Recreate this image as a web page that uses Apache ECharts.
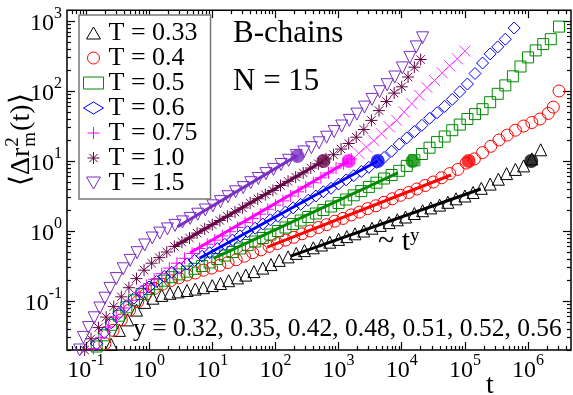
<!DOCTYPE html>
<html>
<head>
<meta charset="utf-8">
<script src="https://cdn.jsdelivr.net/npm/echarts@6/dist/echarts.min.js"></script>
<style>
  html, body { margin: 0; padding: 0; background: #fff; }
  #chart { width: 573px; height: 395px; }
</style>
</head>
<body>
<div id="chart"></div>
<script>
// log-log plot: every number below is log10 of t or of <dr^2_m(t)>
const names = ['T = 0.33', 'T = 0.4', 'T = 0.5', 'T = 0.6', 'T = 0.75', 'T = 1.0', 'T = 1.5'];
const colors = ['#000000', '#ff0000', '#008b00', '#0000ff', '#ff00ff', '#670748', '#7a2ec4'];

const t033 = [-0.6,-0.47,-0.34,-0.2,-0.07,0.06,0.2,0.33,0.46,0.6,0.73,0.86,1.0,1.13,1.26,1.4,1.53,1.66,1.8,1.93,2.06,2.2,2.33,2.46,2.6,2.73,2.86,3.0,3.13,3.26,3.4,3.53,3.66,3.8,3.93,4.06,4.2,4.33,4.46,4.6,4.73,4.86,5.0,5.13,5.26,5.4,5.53,5.66,5.8,5.93,6.06,6.2];
const r033 = [-1.62,-1.42,-1.27,-1.13,-1.02,-0.96,-0.92,-0.89,-0.87,-0.85,-0.83,-0.81,-0.78,-0.75,-0.71,-0.67,-0.63,-0.58,-0.53,-0.48,-0.42,-0.37,-0.32,-0.28,-0.24,-0.20,-0.16,-0.12,-0.08,-0.04,0.0,0.04,0.08,0.12,0.16,0.20,0.25,0.29,0.33,0.37,0.41,0.46,0.50,0.55,0.61,0.67,0.74,0.82,0.88,0.93,1.03,1.16];

const t040 = [-0.7,-0.57,-0.44,-0.31,-0.18,-0.05,0.08,0.21,0.34,0.47,0.6,0.73,0.86,0.99,1.12,1.25,1.38,1.51,1.64,1.77,1.9,2.03,2.16,2.29,2.42,2.55,2.68,2.81,2.94,3.07,3.2,3.33,3.46,3.59,3.72,3.85,3.98,4.11,4.24,4.37,4.5,4.63,4.76,4.89,5.02,5.15,5.28,5.41,5.54,5.67,5.8,5.93,6.06,6.19,6.32,6.4,6.49];
const r040 = [-1.61,-1.42,-1.27,-1.13,-1.01,-0.90,-0.82,-0.76,-0.71,-0.67,-0.63,-0.60,-0.56,-0.53,-0.49,-0.45,-0.41,-0.36,-0.31,-0.27,-0.22,-0.18,-0.13,-0.09,-0.04,0.0,0.05,0.09,0.14,0.18,0.23,0.27,0.32,0.36,0.41,0.46,0.51,0.55,0.60,0.65,0.70,0.76,0.82,0.88,0.97,1.03,1.12,1.21,1.30,1.37,1.44,1.50,1.55,1.60,1.68,1.77,2.0];

const t050 = [-0.83,-0.71,-0.6,-0.48,-0.36,-0.24,-0.12,0.0,0.12,0.24,0.36,0.48,0.6,0.72,0.84,0.96,1.08,1.2,1.32,1.44,1.56,1.68,1.8,1.92,2.04,2.16,2.28,2.4,2.52,2.64,2.76,2.88,3.0,3.12,3.24,3.36,3.48,3.6,3.72,3.84,3.96,4.08,4.2,4.32,4.44,4.56,4.68,4.8,4.92,5.04,5.16,5.28,5.4,5.52,5.64,5.76,5.88,6.0,6.12,6.24,6.36,6.49];
const r050 = [-1.65,-1.49,-1.34,-1.21,-1.09,-0.99,-0.90,-0.83,-0.76,-0.71,-0.66,-0.62,-0.58,-0.54,-0.50,-0.45,-0.40,-0.35,-0.30,-0.25,-0.20,-0.15,-0.10,-0.05,0.0,0.05,0.10,0.15,0.20,0.25,0.30,0.35,0.40,0.45,0.51,0.57,0.63,0.69,0.75,0.80,0.86,0.93,1.01,1.10,1.19,1.27,1.35,1.44,1.52,1.60,1.67,1.74,1.84,1.96,2.08,2.21,2.35,2.48,2.58,2.67,2.74,2.92];

const t060 = [-0.83,-0.71,-0.6,-0.48,-0.36,-0.24,-0.12,0.0,0.12,0.24,0.36,0.48,0.6,0.72,0.84,0.96,1.08,1.2,1.32,1.44,1.56,1.68,1.8,1.92,2.04,2.16,2.28,2.4,2.52,2.64,2.76,2.88,3.0,3.12,3.24,3.36,3.48,3.6,3.72,3.84,3.96,4.08,4.2,4.32,4.44,4.56,4.68,4.8,4.92,5.04,5.16,5.28,5.4,5.52,5.64,5.78];
const r060 = [-1.61,-1.45,-1.31,-1.18,-1.07,-0.96,-0.87,-0.80,-0.72,-0.65,-0.59,-0.53,-0.47,-0.42,-0.36,-0.31,-0.25,-0.19,-0.13,-0.07,-0.01,0.04,0.10,0.16,0.21,0.27,0.33,0.38,0.44,0.50,0.56,0.61,0.67,0.73,0.79,0.85,0.91,0.98,1.05,1.14,1.24,1.33,1.42,1.51,1.61,1.69,1.78,1.88,1.99,2.10,2.25,2.40,2.53,2.63,2.74,2.90];

const t075 = [-0.88,-0.76,-0.64,-0.52,-0.4,-0.28,-0.16,-0.04,0.08,0.2,0.32,0.44,0.56,0.68,0.8,0.92,1.04,1.16,1.28,1.4,1.52,1.64,1.76,1.88,2.0,2.12,2.24,2.36,2.48,2.6,2.72,2.84,2.96,3.08,3.2,3.32,3.44,3.56,3.68,3.8,3.92,4.04,4.16,4.28,4.4,4.52,4.64,4.76,4.88,5.0];
const r075 = [-1.68,-1.52,-1.37,-1.23,-1.10,-0.99,-0.88,-0.78,-0.69,-0.61,-0.53,-0.46,-0.39,-0.32,-0.25,-0.19,-0.13,-0.07,-0.01,0.05,0.12,0.18,0.24,0.31,0.37,0.43,0.50,0.56,0.63,0.69,0.76,0.83,0.90,0.96,1.03,1.11,1.20,1.29,1.39,1.49,1.58,1.70,1.82,1.94,2.05,2.15,2.26,2.36,2.46,2.57];
const plusCount075 = 35; // later T = 0.75 points are drawn as crosses

const t100 = [-1.02,-0.92,-0.8,-0.68,-0.56,-0.44,-0.32,-0.2,-0.08,0.04,0.16,0.28,0.4,0.52,0.64,0.76,0.88,1.0,1.12,1.24,1.36,1.48,1.6,1.72,1.84,1.96,2.08,2.2,2.32,2.44,2.56,2.68,2.8,2.92,3.04,3.16,3.28,3.4,3.52,3.64,3.76,3.88,4.0,4.1,4.2,4.3];
const r100 = [-1.70,-1.54,-1.38,-1.23,-1.08,-0.94,-0.81,-0.68,-0.56,-0.46,-0.38,-0.30,-0.22,-0.16,-0.10,-0.03,0.03,0.09,0.15,0.21,0.27,0.33,0.40,0.46,0.52,0.58,0.65,0.71,0.77,0.83,0.90,0.96,1.03,1.09,1.17,1.25,1.34,1.45,1.58,1.72,1.85,1.97,2.06,2.20,2.34,2.45];

const t150 = [-1.1,-1.04,-0.96,-0.87,-0.78,-0.7,-0.62,-0.52,-0.41,-0.3,-0.19,-0.07,0.05,0.17,0.29,0.41,0.53,0.65,0.77,0.89,1.01,1.13,1.25,1.37,1.49,1.61,1.73,1.85,1.97,2.09,2.21,2.33,2.45,2.57,2.69,2.81,2.93,3.05,3.17,3.29,3.41,3.53,3.65,3.77,3.89,4.01,4.13,4.23,4.33];
const r150 = [-1.70,-1.52,-1.38,-1.24,-1.10,-0.96,-0.82,-0.68,-0.54,-0.42,-0.31,-0.20,-0.10,-0.03,0.03,0.08,0.13,0.18,0.24,0.30,0.36,0.42,0.49,0.56,0.62,0.69,0.75,0.82,0.88,0.95,1.01,1.08,1.13,1.19,1.26,1.34,1.42,1.50,1.58,1.67,1.77,1.88,1.99,2.09,2.20,2.33,2.48,2.63,2.76];

// power-law fits ~ t^y: start and end points, same order as names
const fitStart = [[2.24,-0.36],[1.87,-0.23],[1.02,-0.39],[0.8,-0.39],[0.65,-0.31],[0.4,-0.22],[0.45,0.06]];
const fitEnd   = [[5.25,0.60],[4.78,0.80],[3.94,0.83],[3.62,1.0],[3.16,1.0],[2.76,1.0],[2.35,1.08]];
// filled circles marking the crossover
const crossT = [6.05, 5.06, 4.17, 3.62, 3.16, 2.76, 2.35];
const crossR = [1.0, 1.0, 1.0, 1.0, 1.0, 1.0, 1.07];
const exponents = ['0.32', '0.35', '0.42', '0.48', '0.51', '0.52', '0.56'];

const xMajor = [-1, 0, 1, 2, 3, 4, 5, 6];
const yMajor = [-1, 0, 1, 2, 3];
const xRange = [-1.3, 6.68];
const yRange = [-1.7, 3.155];

const FONT = '"Liberation Serif", "Times New Roman", serif';

function minorOf(range) {
  const out = [];
  for (let d = Math.floor(range[0]); d <= Math.ceil(range[1]); d++) {
    for (let k = 2; k <= 9; k++) {
      const v = d + Math.log10(k);
      if (v > range[0] && v < range[1]) out.push(v);
    }
  }
  return out;
}

const zip = (xs, ys) => xs.map((x, i) => [x, ys[i]]);

const labelRich = {
  b: { fontSize: 24, fontFamily: FONT, color: '#000', lineHeight: 24, padding: [12, 0, 0, 0], verticalAlign: 'bottom' },
  s: { fontSize: 16, fontFamily: FONT, color: '#000', lineHeight: 30, verticalAlign: 'top' }
};

function makeAxis(range, position, ticks, len, label) {
  return {
    type: 'value', min: range[0], max: range[1], position: position,
    axisLine: { show: false, onZero: false }, splitLine: { show: false },
    axisTick: { show: true, inside: true, length: len, customValues: ticks, lineStyle: { color: '#000', width: 1.2 } },
    axisLabel: label ? Object.assign({
      customValues: ticks,
      formatter: v => '{b|10}{s|' + v + '}',
      rich: labelRich
    }, label) : { show: false }
  };
}

const markerSets = [
  { t: t033, r: r033, symbol: 'path://M5,0L10,8.66L0,8.66Z', size: 12 },
  { t: t040, r: r040, symbol: 'circle', size: 12 },
  { t: t050, r: r050, symbol: 'rect', size: 11 },
  { t: t060, r: r060, symbol: 'diamond', size: 12 },
  { t: t075.slice(0, plusCount075), r: r075.slice(0, plusCount075), symbol: 'path://M0,5L10,5M5,0L5,10', size: 12 },
  { t: t100, r: r100, symbol: 'path://M5,0L5,10M0,5L10,5M1.5,1.5L8.5,8.5M1.5,8.5L8.5,1.5', size: 12 },
  { t: t150, r: r150, symbol: 'path://M0,0L10,0L5,8.66Z', size: 12 }
];

const series = [];
markerSets.forEach((m, i) => {
  series.push({
    type: 'scatter', name: names[i], data: zip(m.t, m.r),
    symbol: m.symbol, symbolSize: m.size, z: 2,
    itemStyle: { color: 'rgba(0,0,0,0)', borderColor: colors[i], borderWidth: 1, opacity: 1 }
  });
});
// later T = 0.75 points: crosses
series.push({
  type: 'scatter', name: names[4], data: zip(t075.slice(plusCount075), r075.slice(plusCount075)),
  symbol: 'path://M0,0L10,10M0,10L10,0', symbolSize: 11, z: 2,
  itemStyle: { color: 'rgba(0,0,0,0)', borderColor: colors[4], borderWidth: 1 }
});
fitStart.forEach((s, i) => {
  series.push({
    type: 'line', name: 'fit' + i, data: [s, fitEnd[i]], symbol: 'none', z: 3, silent: true,
    lineStyle: { color: colors[i], width: 3 }
  });
});
series.push({
  type: 'scatter', name: 'cross', data: zip(crossT, crossR).map((p, i) => ({ value: p, itemStyle: { color: colors[i] } })),
  symbol: 'circle', symbolSize: 14, z: 4
});

// y-axis title, stacked super/subscript
const ctx = document.createElement('canvas').getContext('2d');
function textWidth(s, size) { ctx.font = size + 'px ' + FONT; return ctx.measureText(s).width; }
const yBig = 28, ySmall = 19;
const w1 = textWidth('\u27E8\u0394r', yBig);
const w2 = Math.max(textWidth('2', ySmall), textWidth('m', ySmall));

const chart = echarts.init(document.getElementById('chart'));
chart.setOption({
  animation: false,
  backgroundColor: '#fff',
  grid: { left: 67, top: 5, width: 504, height: 345, show: true, borderColor: '#000', borderWidth: 1.5, backgroundColor: 'transparent' },
  xAxis: [
    makeAxis(xRange, 'bottom', xMajor, 8, { margin: 3 }),
    makeAxis(xRange, 'bottom', minorOf(xRange), 4, null),
    makeAxis(xRange, 'top', xMajor, 8, null),
    makeAxis(xRange, 'top', minorOf(xRange), 4, null)
  ],
  yAxis: [
    makeAxis(yRange, 'left', yMajor, 8, { margin: 5 }),
    makeAxis(yRange, 'left', minorOf(yRange), 4, null),
    makeAxis(yRange, 'right', yMajor, 8, null),
    makeAxis(yRange, 'right', minorOf(yRange), 4, null)
  ],
  legend: {
    data: names, orient: 'vertical', left: 79, top: 15,
    backgroundColor: '#fff', borderColor: '#777', borderWidth: 1.5, borderRadius: 0,
    padding: [5, 13, 3, 4], itemGap: -1, itemWidth: 20, itemHeight: 12,
    itemStyle: { borderWidth: 1 },
    textStyle: { fontSize: 26, fontFamily: FONT, color: '#000' },
    selectedMode: false
  },
  graphic: [
    { type: 'text', x: 233, y: 34, style: { text: 'B-chains', fontSize: 31, fontFamily: FONT, fill: '#000', verticalAlign: 'middle' } },
    { type: 'text', x: 233, y: 82, style: { text: 'N = 15', fontSize: 31, fontFamily: FONT, fill: '#000', verticalAlign: 'middle' } },
    { type: 'text', x: 378, y: 242, style: {
        text: '{n|~ t}{s|y}', verticalAlign: 'middle',
        rich: {
          n: { fontSize: 30, fontFamily: FONT, fill: '#000', lineHeight: 30, padding: [8, 0, 0, 0], verticalAlign: 'bottom' },
          s: { fontSize: 19, fontFamily: FONT, fill: '#000', lineHeight: 19, verticalAlign: 'top' }
        } } },
    { type: 'text', x: 133, y: 329, style: { text: 'y = ' + exponents.join(', '), fontSize: 25.5, fontFamily: FONT, fill: '#000', verticalAlign: 'middle' } },
    { type: 'text', x: 486, y: 386, style: { text: 't', fontSize: 28, fontFamily: FONT, fill: '#000', verticalAlign: 'middle' } },
    { type: 'group', x: 22, y: 186, rotation: Math.PI / 2, children: [
      { type: 'text', x: 0, y: 0, style: { text: '\u27E8\u0394r', fontSize: yBig, fontFamily: FONT, fill: '#000', verticalAlign: 'middle' } },
      { type: 'text', x: w1 + 1, y: -9, style: { text: '2', fontSize: ySmall, fontFamily: FONT, fill: '#000', verticalAlign: 'middle' } },
      { type: 'text', x: w1 + 1, y: 8, style: { text: 'm', fontSize: ySmall, fontFamily: FONT, fill: '#000', verticalAlign: 'middle' } },
      { type: 'text', x: w1 + w2 + 2, y: 0, style: { text: '(t)\u27E9', fontSize: yBig, fontFamily: FONT, fill: '#000', verticalAlign: 'middle' } }
    ] }
  ],
  series: series
});
</script>
</body>
</html>
